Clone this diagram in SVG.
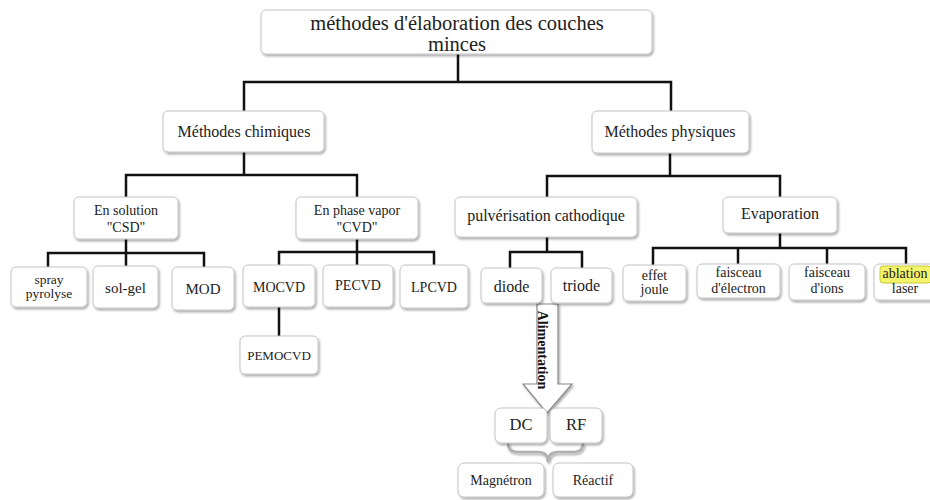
<svg xmlns="http://www.w3.org/2000/svg" width="930" height="500" viewBox="0 0 930 500">
<defs>
<filter id="sh" x="-10%" y="-20%" width="130%" height="150%">
<feDropShadow dx="1.2" dy="1.8" stdDeviation="1.3" flood-color="#000" flood-opacity="0.35"/>
</filter>
</defs>
<style>
.box{fill:#fff;stroke:#c4c4c4;stroke-width:1;filter:url(#sh)}
text{font-family:"Liberation Serif","Times New Roman",serif;fill:#222;text-anchor:middle}
.t21{font-size:20.5px}
.t16{font-size:16px}
.t15{font-size:15px}
.t14{font-size:14px}
.t13{font-size:13.5px}
.ln{fill:none;stroke:#111;stroke-width:2.5;stroke-linejoin:miter}
</style>
<rect width="930" height="500" fill="#fff"/>
<g id="connectors">
<path class="ln" d="M458,54 V82 M244,111 V82 H671 V111"/>
<path class="ln" d="M244,152 V175 M126,197 V175 H357 V197"/>
<path class="ln" d="M670,153 V176 M547,197 V176 H780 V197"/>
<path class="ln" d="M126,239 V253 M48,267 V253 H204 V267 M126,253 V266"/>
<path class="ln" d="M357,239 V252 M279,265 V252 H434 V265 M357,252 V265 M279,307 V336"/>
<path class="ln" d="M547,237 V252 M510,268 V252 H582 V268"/>
<path class="ln" d="M780,233 V248 M653,265 V248 H906 V264 M738,248 V264 M827,248 V264"/>
<g id="alimentation">
<polygon points="537,304 558,304 558,384 572,384 547,413 523,384 537,384" fill="#fff" stroke="#8a8a8a" stroke-width="1.2" filter="url(#sh)"/>
<text transform="translate(538,350) rotate(90)" style="font-size:14px;font-weight:bold;fill:#111">Alimentation</text>
</g>
<path d="M508,443 Q508,452 518,452 L538,452 Q548,452 548,462 Q548,452 558,452 L574,452 Q583,452 583,443" fill="none" stroke="#b0b0b0" stroke-width="2.5" filter="url(#sh)"/>
</g>
<g id="n0"><rect class="box" x="261" y="10" width="391" height="44" rx="5"/><text class="t21" x="457" y="30">méthodes d'élaboration des couches</text><text class="t21" x="457" y="50.5">minces</text></g>
<g id="n1"><rect class="box" x="163" y="111" width="161" height="41" rx="5"/><text class="t16" x="244" y="137">Méthodes chimiques</text></g>
<g id="n2"><rect class="box" x="592" y="111" width="157" height="42" rx="5"/><text class="t16" x="670" y="137">Méthodes physiques</text></g>
<g id="n3"><rect class="box" x="74" y="197" width="104" height="42" rx="5"/><text class="t14" x="126" y="215">En solution</text><text class="t14" x="126" y="232">"CSD"</text></g>
<g id="n4"><rect class="box" x="296" y="197" width="122" height="42" rx="5"/><text class="t14" x="357" y="215">En phase vapor</text><text class="t14" x="357" y="232">"CVD"</text></g>
<g id="n5"><rect class="box" x="455" y="197" width="182" height="40" rx="5"/><text class="t16" x="546" y="221">pulvérisation cathodique</text></g>
<g id="n6"><rect class="box" x="723" y="197" width="114" height="36" rx="5"/><text class="t16" x="780" y="219">Evaporation</text></g>
<g id="n7"><rect class="box" x="11" y="267" width="76" height="40" rx="5"/><text class="t13" x="49" y="284">spray</text><text class="t13" x="49" y="298">pyrolyse</text></g>
<g id="n8"><rect class="box" x="93" y="266" width="65" height="42" rx="5"/><text class="t15" x="125.5" y="293">sol-gel</text></g>
<g id="n9"><rect class="box" x="172" y="267" width="62" height="43" rx="5"/><text class="t15" x="203" y="294">MOD</text></g>
<g id="n10"><rect class="box" x="243" y="265" width="72" height="42" rx="5"/><text class="t14" x="279" y="292">MOCVD</text></g>
<g id="n11"><rect class="box" x="323" y="265" width="70" height="42" rx="5"/><text class="t14" x="358" y="290">PECVD</text></g>
<g id="n12"><rect class="box" x="400" y="265" width="68" height="43" rx="5"/><text class="t14" x="434" y="292">LPCVD</text></g>
<g id="n13"><rect class="box" x="240" y="336" width="78" height="38" rx="5"/><text style="font-size:13px" x="279" y="360">PEMOCVD</text></g>
<g id="n14"><rect class="box" x="481" y="268" width="61" height="35" rx="5"/><text class="t16" x="511.5" y="292">diode</text></g>
<g id="n15"><rect class="box" x="551" y="268" width="61" height="35" rx="5"/><text class="t16" x="581.5" y="291">triode</text></g>
<g id="n16"><rect class="box" x="623" y="265" width="63" height="36" rx="5"/><text class="t14" x="654.5" y="280">effet</text><text class="t14" x="654.5" y="294">joule</text></g>
<g id="n17"><rect class="box" x="697" y="264" width="83" height="34" rx="5"/><text class="t14" x="738.5" y="277">faisceau</text><text class="t14" x="738.5" y="293">d'électron</text></g>
<g id="n18"><rect class="box" x="789" y="264" width="76" height="36" rx="5"/><text class="t14" x="827" y="277">faisceau</text><text class="t14" x="827" y="293">d'ions</text></g>
<g id="n19"><rect class="box" x="874" y="264" width="64" height="36" rx="5"/><rect x="880" y="266" width="51" height="17" rx="3" fill="#f4f46a" stroke="#c9c93a" stroke-width="1"/><text class="t14" x="905" y="278">ablation</text><text class="t14" x="905" y="293">laser</text></g>
<g id="n20"><rect class="box" x="495" y="408" width="52" height="35" rx="6"/><text style="font-size:16.5px" x="521" y="430">DC</text></g>
<g id="n21"><rect class="box" x="550" y="408" width="52" height="35" rx="6"/><text style="font-size:16.5px" x="576" y="430">RF</text></g>
<g id="n22"><rect class="box" x="458" y="463" width="86" height="34" rx="6"/><text class="t14" x="501" y="485">Magnétron</text></g>
<g id="n23"><rect class="box" x="553" y="463" width="80" height="34" rx="6"/><text class="t14" x="593" y="485">Réactif</text></g>
</svg>
